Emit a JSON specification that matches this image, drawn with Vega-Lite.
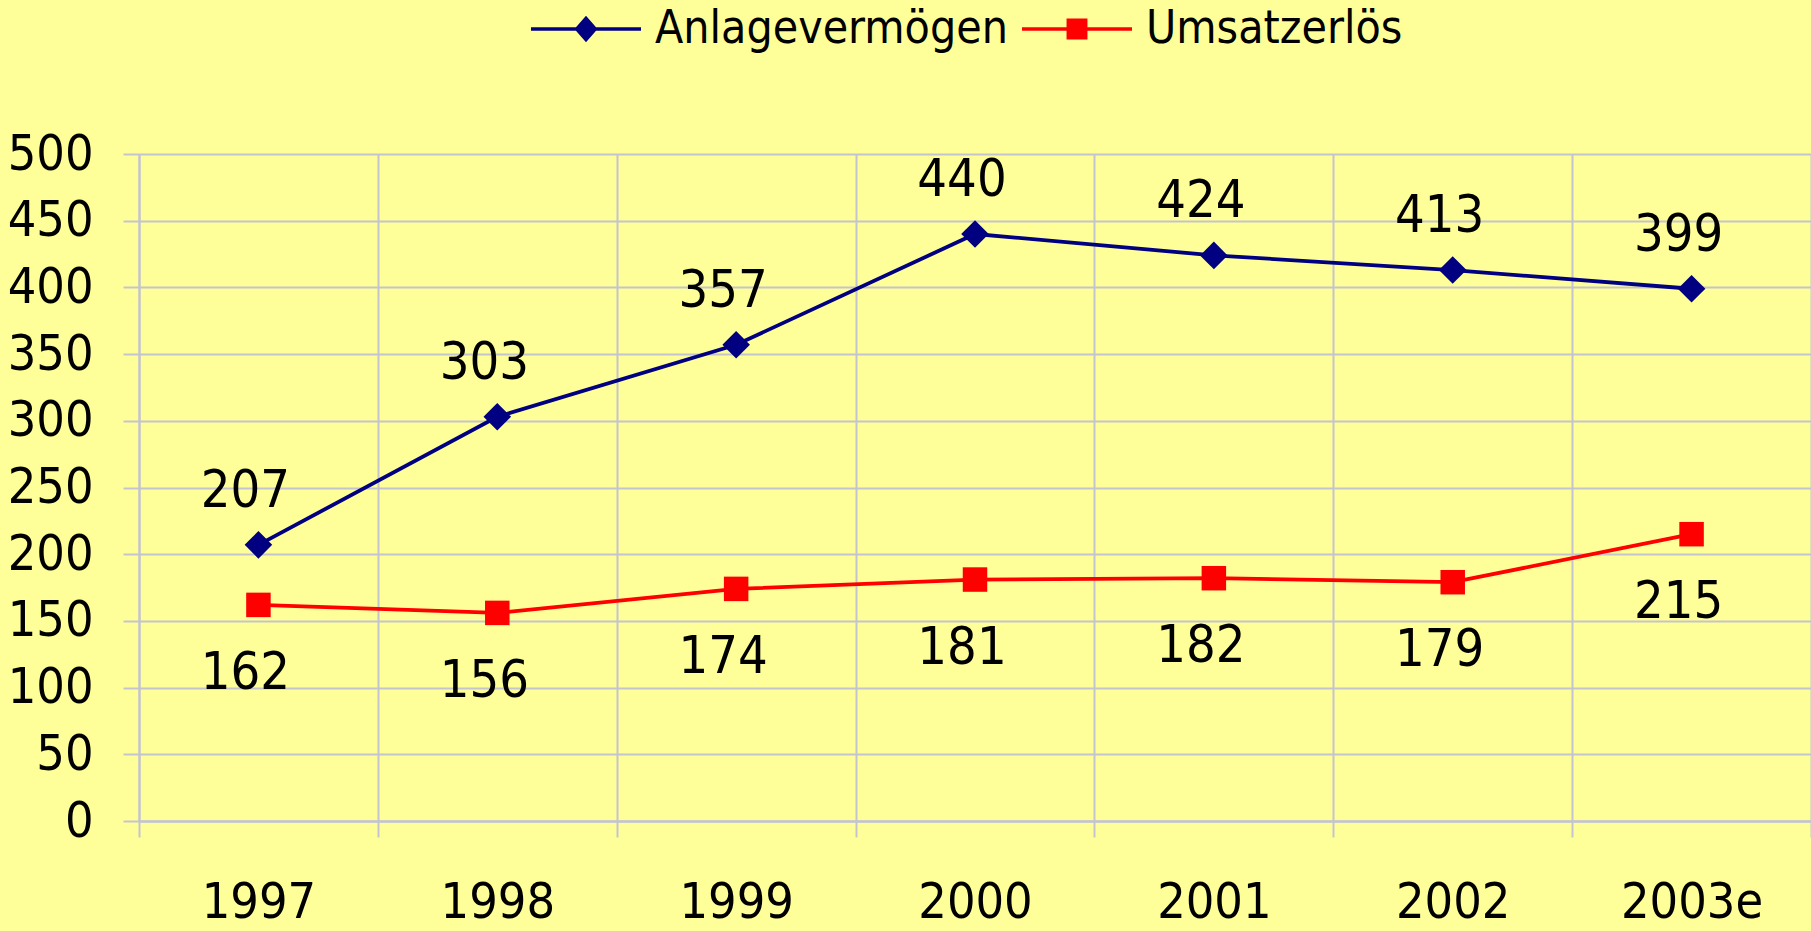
{
  "$schema": "https://vega.github.io/schema/vega-lite/v6.json",
  "width": 1672,
  "height": 667,
  "autosize": {"type": "none"},
  "padding": {"left": 139, "top": 154, "right": 0, "bottom": 110},
  "background": "#FFFF99",
  "config": {
    "view": {"stroke": null},
    "font": "DejaVu Sans Condensed, Roboto",
    "axis": {
      "gridColor": "#C4C4D0",
      "gridWidth": 2,
      "tickColor": "#C4C4D0",
      "tickWidth": 2,
      "domainColor": "#C4C4D0",
      "labelColor": "#000000",
      "labelFont": "DejaVu Sans Condensed, Roboto",
      "title": null
    },
    "legend": {
      "orient": "none",
      "direction": "horizontal",
      "legendX": 392,
      "legendY": -180,
      "padding": 0,
      "symbolSize": 12100,
      "symbolStrokeWidth": 0,
      "symbolOpacity": 1,
      "labelFont": "DejaVu Sans Condensed, Roboto",
      "labelFontSize": 46,
      "labelLimit": 0,
      "labelColor": "#000000",
      "labelOffset": 14,
      "columnPadding": 14
    }
  },
  "data": {
    "values": [
      {"year": "1997", "series": "Anlagevermögen", "value": 207},
      {"year": "1998", "series": "Anlagevermögen", "value": 303},
      {"year": "1999", "series": "Anlagevermögen", "value": 357},
      {"year": "2000", "series": "Anlagevermögen", "value": 440},
      {"year": "2001", "series": "Anlagevermögen", "value": 424},
      {"year": "2002", "series": "Anlagevermögen", "value": 413},
      {"year": "2003e", "series": "Anlagevermögen", "value": 399},
      {"year": "1997", "series": "Umsatzerlös", "value": 162},
      {"year": "1998", "series": "Umsatzerlös", "value": 156},
      {"year": "1999", "series": "Umsatzerlös", "value": 174},
      {"year": "2000", "series": "Umsatzerlös", "value": 181},
      {"year": "2001", "series": "Umsatzerlös", "value": 182},
      {"year": "2002", "series": "Umsatzerlös", "value": 179},
      {"year": "2003e", "series": "Umsatzerlös", "value": 215}
    ]
  },
  "encoding": {
    "x": {
      "field": "year",
      "type": "ordinal",
      "scale": {"type": "band", "paddingInner": 0, "paddingOuter": 0},
      "axis": {
        "tickBand": "extent",
        "grid": true,
        "tickSize": 16,
        "labelPadding": 40,
        "labelFontSize": 50,
        "labelAngle": 0,
        "domainWidth": 2.5
      }
    },
    "y": {
      "field": "value",
      "type": "quantitative",
      "scale": {"domain": [0, 500], "nice": false},
      "axis": {
        "values": [0, 50, 100, 150, 200, 250, 300, 350, 400, 450, 500],
        "grid": true,
        "tickSize": 16,
        "labelPadding": 30,
        "labelFontSize": 50,
        "domainWidth": 2
      }
    },
    "color": {
      "field": "series",
      "type": "nominal",
      "title": null,
      "scale": {"domain": ["Anlagevermögen", "Umsatzerlös"], "range": ["#000080", "#FF0000"]}
    }
  },
  "layer": [
    {
      "mark": {"type": "line", "strokeWidth": 3.8}
    },
    {
      "mark": {"type": "point", "filled": true, "opacity": 0, "size": 10},
      "encoding": {
        "shape": {
          "field": "series",
          "type": "nominal",
          "title": null,
          "scale": {
            "domain": ["Anlagevermögen", "Umsatzerlös"],
            "range": [
              "M-1,-0.032H1V0.032H-1Z M0,-0.24L0.21,0L0,0.24L-0.21,0Z",
              "M-1,-0.032H1V0.032H-1Z M-0.19,-0.19H0.19V0.19H-0.19Z"
            ]
          }
        }
      }
    },
    {
      "transform": [{"filter": "datum.series === 'Anlagevermögen'"}],
      "mark": {"type": "point", "filled": true, "opacity": 1, "size": 760, "shape": "diamond"}
    },
    {
      "transform": [{"filter": "datum.series === 'Umsatzerlös'"}],
      "mark": {"type": "point", "filled": true, "opacity": 1, "size": 600, "shape": "square"}
    },
    {
      "transform": [{"filter": "datum.series === 'Anlagevermögen'"}],
      "mark": {"type": "text", "fontSize": 52, "dy": -54, "dx": -13, "align": "center", "baseline": "middle"},
      "encoding": {
        "text": {"field": "value", "type": "quantitative"},
        "color": {"value": "#000000"}
      }
    },
    {
      "transform": [{"filter": "datum.series === 'Umsatzerlös'"}],
      "mark": {"type": "text", "fontSize": 52, "dy": 68, "dx": -13, "align": "center", "baseline": "middle"},
      "encoding": {
        "text": {"field": "value", "type": "quantitative"},
        "color": {"value": "#000000"}
      }
    }
  ]
}
